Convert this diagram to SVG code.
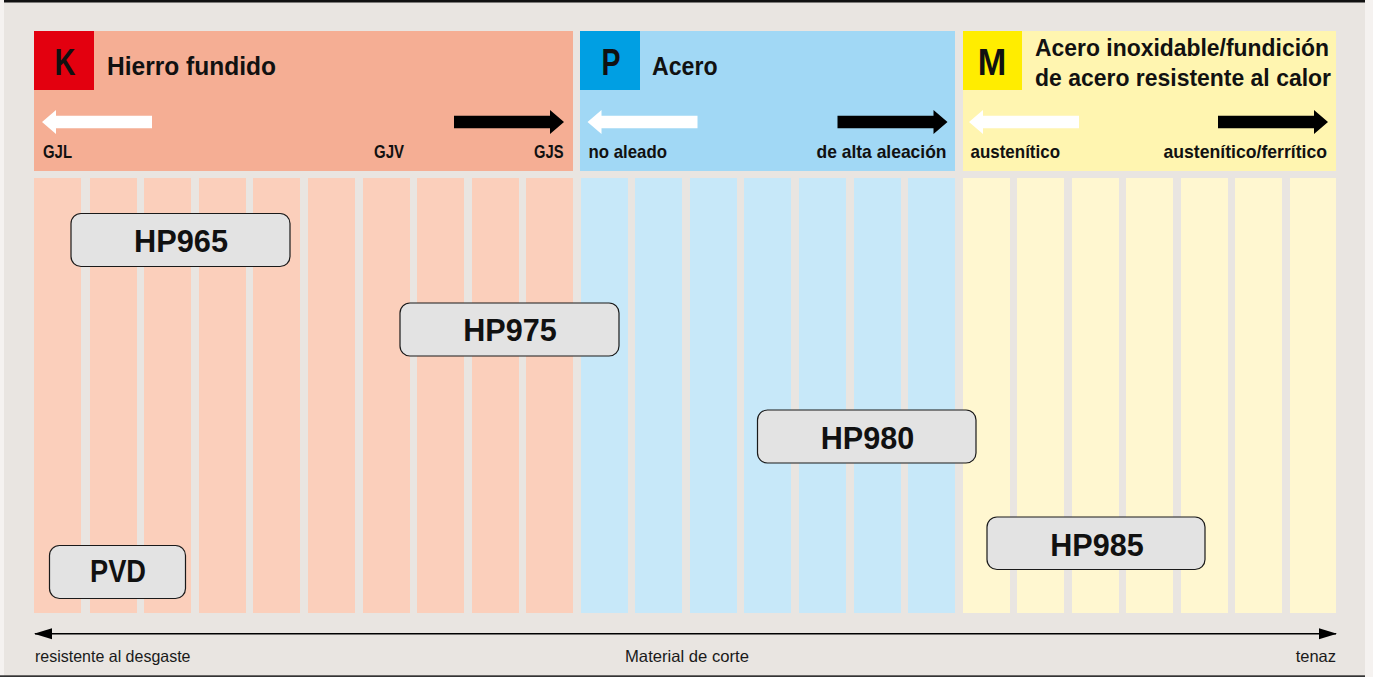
<svg xmlns="http://www.w3.org/2000/svg" width="1373" height="677" viewBox="0 0 1373 677">
  <style>
    .lbl { font-family: "Liberation Sans", Arial, sans-serif; font-weight: bold; font-size: 18.5px; fill: #111; }
    .ttl { font-family: "Liberation Sans", Arial, sans-serif; font-weight: bold; font-size: 26px; fill: #111; }
    .ttl2 { font-family: "Liberation Sans", Arial, sans-serif; font-weight: bold; font-size: 24.5px; fill: #111; }
    .sq { font-family: "Liberation Sans", Arial, sans-serif; font-weight: bold; font-size: 37px; fill: #111; text-anchor: middle; }
    .box { fill: #e3e3e3; stroke: #1a1a1a; stroke-width: 1.2; }
    .boxt { font-family: "Liberation Sans", Arial, sans-serif; font-weight: bold; font-size: 31px; fill: #111; text-anchor: middle; }
    .axt { font-family: "Liberation Sans", Arial, sans-serif; font-size: 16.5px; fill: #1a1a1a; }
    .colK { fill: #fbcfbb; }
    .colP { fill: #c7e8f9; }
    .colM { fill: #fff7d0; }
  </style>
  <defs>
    <!-- header direction arrows, 110 px long, tip at origin -->
    <path id="arrL" d="M0,0 L14,-12 L14,-6.2 L110,-6.2 L110,6.2 L14,6.2 L14,12 Z"/>
    <path id="arrR" d="M0,0 L-14,-12 L-14,-6.2 L-110,-6.2 L-110,6.2 L-14,6.2 L-14,12 Z"/>
    <marker id="axHead" viewBox="0 0 18 12" refX="17" refY="6" markerWidth="18" markerHeight="12" markerUnits="userSpaceOnUse" orient="auto-start-reverse">
      <path d="M0,0.5 L18,6 L0,11.5 Z" fill="#000"/>
    </marker>
  </defs>

  <!-- page background -->
  <rect x="0" y="0" width="1373" height="677" fill="#f5f2f0"/>
  <rect x="4" y="0" width="1361" height="677" fill="#e9e5e1"/>
  <rect x="4" y="0" width="1361" height="2.5" fill="#111"/>
  <rect x="0" y="675.3" width="1365" height="1.7" fill="#333"/>

  <!-- K: cast iron -->
  <g id="groupK">
    <rect x="34" y="31" width="539" height="140" fill="#f5ae94"/>
    <rect x="34" y="31" width="60" height="59" fill="#e3000f"/>
    <text class="sq" x="65" y="75" textLength="21" lengthAdjust="spacingAndGlyphs">K</text>
    <text class="ttl" x="107" y="75" textLength="169" lengthAdjust="spacingAndGlyphs">Hierro fundido</text>
    <use href="#arrL" x="42" y="122" fill="#fff"/>
    <use href="#arrR" x="564" y="122" fill="#000"/>
    <text class="lbl" x="43" y="158" textLength="29" lengthAdjust="spacingAndGlyphs">GJL</text>
    <text class="lbl" x="374" y="158" textLength="30" lengthAdjust="spacingAndGlyphs">GJV</text>
    <text class="lbl" x="534" y="158" textLength="29.5" lengthAdjust="spacingAndGlyphs">GJS</text>
    <g class="colK">
      <rect x="34" y="178" width="47" height="435"/>
      <rect x="90" y="178" width="47" height="435"/>
      <rect x="144" y="178" width="47" height="435"/>
      <rect x="199" y="178" width="47" height="435"/>
      <rect x="253" y="178" width="47" height="435"/>
      <rect x="308" y="178" width="47" height="435"/>
      <rect x="363" y="178" width="47" height="435"/>
      <rect x="417" y="178" width="47" height="435"/>
      <rect x="472" y="178" width="47" height="435"/>
      <rect x="526" y="178" width="47" height="435"/>
    </g>
  </g>

  <!-- P: steel -->
  <g id="groupP">
    <rect x="580" y="31" width="375" height="140" fill="#a1d8f5"/>
    <rect x="580" y="31" width="60" height="59" fill="#009fe3"/>
    <text class="sq" x="611" y="75" textLength="19" lengthAdjust="spacingAndGlyphs">P</text>
    <text class="ttl" x="652" y="75" textLength="65.5" lengthAdjust="spacingAndGlyphs">Acero</text>
    <use href="#arrL" x="587.5" y="122" fill="#fff"/>
    <use href="#arrR" x="947.5" y="122" fill="#000"/>
    <text class="lbl" x="588.5" y="158" textLength="78.5" lengthAdjust="spacingAndGlyphs">no aleado</text>
    <text class="lbl" x="816.5" y="158" textLength="130" lengthAdjust="spacingAndGlyphs">de alta aleación</text>
    <g class="colP">
      <rect x="581" y="178" width="47" height="435"/>
      <rect x="635" y="178" width="47" height="435"/>
      <rect x="690" y="178" width="47" height="435"/>
      <rect x="744" y="178" width="47" height="435"/>
      <rect x="799" y="178" width="47" height="435"/>
      <rect x="854" y="178" width="47" height="435"/>
      <rect x="908" y="178" width="47" height="435"/>
    </g>
  </g>

  <!-- M: stainless steel -->
  <g id="groupM">
    <rect x="963" y="31" width="373" height="140" fill="#fff5b0"/>
    <rect x="963" y="31" width="59" height="59" fill="#ffed00"/>
    <text class="sq" x="992" y="75" textLength="28.5" lengthAdjust="spacingAndGlyphs">M</text>
    <text class="ttl2" x="1035" y="56" textLength="294" lengthAdjust="spacingAndGlyphs">Acero inoxidable/fundición</text>
    <text class="ttl2" x="1035" y="86" textLength="296" lengthAdjust="spacingAndGlyphs">de acero resistente al calor</text>
    <use href="#arrL" x="969" y="122" fill="#fff"/>
    <use href="#arrR" x="1328" y="122" fill="#000"/>
    <text class="lbl" x="970.5" y="158" textLength="89.5" lengthAdjust="spacingAndGlyphs">austenítico</text>
    <text class="lbl" x="1163.5" y="158" textLength="163.5" lengthAdjust="spacingAndGlyphs">austenítico/ferrítico</text>
    <g class="colM">
      <rect x="963" y="178" width="47" height="435"/>
      <rect x="1017" y="178" width="47" height="435"/>
      <rect x="1072" y="178" width="47" height="435"/>
      <rect x="1126" y="178" width="47" height="435"/>
      <rect x="1181" y="178" width="47" height="435"/>
      <rect x="1235" y="178" width="47" height="435"/>
      <rect x="1290" y="178" width="46" height="435"/>
    </g>
  </g>

  <!-- grade nodes -->
  <g id="HP965">
    <rect class="box" x="71" y="213.5" width="219" height="53" rx="10"/>
    <text class="boxt" x="181" y="251.5" textLength="94" lengthAdjust="spacingAndGlyphs">HP965</text>
  </g>
  <g id="HP975">
    <rect class="box" x="400" y="303" width="219" height="53" rx="10"/>
    <text class="boxt" x="510" y="341" textLength="93.5" lengthAdjust="spacingAndGlyphs">HP975</text>
  </g>
  <g id="HP980">
    <rect class="box" x="757.5" y="410" width="218.5" height="53" rx="10"/>
    <text class="boxt" x="867.5" y="449" textLength="93.5" lengthAdjust="spacingAndGlyphs">HP980</text>
  </g>
  <g id="HP985">
    <rect class="box" x="987" y="517" width="218" height="52.5" rx="10"/>
    <text class="boxt" x="1097" y="555.5" textLength="93.5" lengthAdjust="spacingAndGlyphs">HP985</text>
  </g>
  <g id="PVD">
    <rect class="box" x="49.5" y="545.5" width="136" height="53" rx="10"/>
    <text class="boxt" x="118" y="582" textLength="56" lengthAdjust="spacingAndGlyphs">PVD</text>
  </g>

  <!-- cutting material axis -->
  <g id="connectors">
    <line x1="35" y1="633.7" x2="1336" y2="633.7" stroke="#000" stroke-width="1.4" marker-start="url(#axHead)" marker-end="url(#axHead)"/>
  </g>
  <text class="axt" x="35" y="662" textLength="155.5" lengthAdjust="spacingAndGlyphs">resistente al desgaste</text>
  <text class="axt" x="625" y="662" textLength="124" lengthAdjust="spacingAndGlyphs">Material de corte</text>
  <text class="axt" x="1336" y="662" text-anchor="end">tenaz</text>
</svg>
